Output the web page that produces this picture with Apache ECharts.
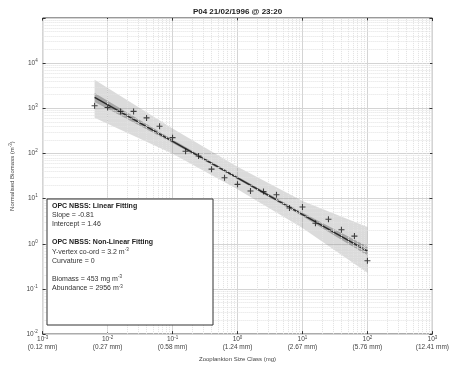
<!DOCTYPE html>
<html>
<head>
<meta charset="utf-8">
<script src="https://cdn.jsdelivr.net/npm/echarts@6/dist/echarts.min.js"></script>
<style>
  html, body { margin: 0; padding: 0; background: #fff; }
  #main { width: 452px; height: 367px; }
</style>
</head>
<body>
<div id="main"></div>
<script>
// size class (mg) and normalised biomass
const sizeClass = [0.00631, 0.01, 0.01585, 0.02512, 0.03981, 0.0631, 0.1, 0.1585, 0.2512, 0.3981, 0.631,
  1, 1.585, 2.512, 3.981, 6.31, 10, 15.85, 25.12, 39.81, 63.1, 100]
const biomass = [1135, 1043, 855, 855, 614, 401, 224, 112, 88, 45, 28.9,
  20.7, 14.7, 14.3, 12.2, 6.2, 6.5, 2.85, 3.48, 2.05, 1.48, 0.42]

// linear fit end points
const fitX = [0.00631, 100]
const fitY = [1746, 0.69]

// confidence / prediction bands
const bandX = [0.00631, 0.1, 1, 10, 100]
const outerUpper = [4270, 355, 51, 8.9, 2.34]
const outerLower = [617, 98, 16.2, 2.24, 0.228]
const innerUpper = [2190, 204, 30.9, 4.9, 0.87]
const innerLower = [1380, 170, 26.9, 4.07, 0.55]

// tick labels
const xMmLabels = ['(0.12 mm)', '(0.27 mm)', '(0.58 mm)', '(1.24 mm)', '(2.67 mm)', '(5.76 mm)', '(12.41 mm)']

const FONT = 'Liberation Sans, Arial, sans-serif'
const chart = echarts.init(document.getElementById('main'))

// minor grid positions (2..9 in every decade)
const xMinor = []
for (let e = -3; e < 3; e++) for (let m = 2; m <= 9; m++) xMinor.push({ xAxis: m * Math.pow(10, e) })
const yMinor = []
for (let e = -2; e < 5; e++) for (let m = 2; m <= 9; m++) yMinor.push({ yAxis: m * Math.pow(10, e) })

const bandSeries = (up, lo, fill, z) => ({
  type: 'custom',
  z: z,
  silent: true,
  data: [[bandX[0], up[0]]],
  renderItem: (params, api) => {
    const pts = []
    for (let i = 0; i < bandX.length; i++) pts.push(api.coord([bandX[i], up[i]]))
    for (let i = bandX.length - 1; i >= 0; i--) pts.push(api.coord([bandX[i], lo[i]]))
    return { type: 'polygon', shape: { points: pts }, style: { fill: fill } }
  }
})

const sup = { fontSize: 4.5, verticalAlign: 'top', padding: [0, 0, 5, 0], color: '#444', fontFamily: FONT }

const option = {
  animation: false,
  textStyle: { fontFamily: FONT },
  grid: { left: 38, right: 15, top: 18, bottom: 24, show: true, borderColor: '#333', borderWidth: 1 },
  xAxis: [{
    type: 'log', logBase: 10, min: 0.001, max: 1000, interval: 1,
    name: 'Zooplankton Size Class (mg)', nameLocation: 'middle', nameGap: 19,
    nameTextStyle: { fontSize: 6, color: '#444' },
    axisLine: { show: false },
    axisTick: { inside: true, length: 3, lineStyle: { color: '#333' } },
    splitLine: { show: true, lineStyle: { color: '#d4d4d4', width: 1 } },
    axisLabel: {
      margin: 1, color: '#444', fontSize: 6.5, lineHeight: 8,
      formatter: v => {
        const e = Math.round(Math.log10(v))
        return '{b|10}{s|' + e + '}\n' + xMmLabels[e + 3]
      },
      rich: { b: { fontSize: 6.5, color: '#444' }, s: sup }
    }
  }, {
    type: 'log', logBase: 10, min: 0.001, max: 1000, interval: 1, position: 'top',
    axisLine: { show: false }, axisLabel: { show: false }, splitLine: { show: false },
    axisTick: { inside: true, length: 3, lineStyle: { color: '#333' } }
  }],
  yAxis: [{
    type: 'log', logBase: 10, min: 0.01, max: 100000, interval: 1,
    name: 'Normalised Biomass (m{s|-3})', nameLocation: 'middle', nameGap: 24,
    nameTextStyle: { fontSize: 6, color: '#444', rich: { s: { fontSize: 4.5, verticalAlign: 'top', padding: [0, 0, 4, 0], color: '#444' } } },
    axisLine: { show: false },
    axisTick: { inside: true, length: 3, lineStyle: { color: '#333' } },
    splitLine: { show: true, lineStyle: { color: '#d4d4d4', width: 1 } },
    axisLabel: {
      margin: 5, color: '#444', fontSize: 6.5,
      formatter: v => {
        const e = Math.round(Math.log10(v))
        return e >= 5 ? '' : '{b|10}{s|' + e + '}'
      },
      rich: { b: { fontSize: 6.5, color: '#444' }, s: sup }
    }
  }, {
    type: 'log', logBase: 10, min: 0.01, max: 100000, interval: 1, position: 'right',
    axisLine: { show: false }, axisLabel: { show: false }, splitLine: { show: false },
    axisTick: { inside: true, length: 3, lineStyle: { color: '#333' } }
  }],
  series: [
    {
      type: 'line', z: 0, silent: true, data: [[1, 1]], showSymbol: false, lineStyle: { opacity: 0 },
      markLine: {
        silent: true, symbol: ['none', 'none'], label: { show: false },
        lineStyle: { color: '#e2e2e2', type: [1, 1], width: 1 },
        data: xMinor.concat(yMinor)
      }
    },
    bandSeries(outerUpper, outerLower, 'rgba(150,150,150,0.34)', 2),
    bandSeries(innerUpper, innerLower, 'rgba(90,90,90,0.4)', 3),
    {
      type: 'line', z: 4, silent: true, showSymbol: false,
      data: fitX.map((x, i) => [x, fitY[i]]),
      lineStyle: { color: '#2a2a2a', width: 1.5 }
    },
    {
      type: 'scatter', z: 5, silent: true,
      symbol: 'path://M4.1,0H5.9V4.1H10V5.9H5.9V10H4.1V5.9H0V4.1H4.1Z',
      symbolSize: 6,
      itemStyle: { color: '#1a1a1a' },
      data: sizeClass.map((x, i) => [x, biomass[i]])
    }
  ],
  graphic: [
    {
      type: 'text', x: 237.5, y: 12, z: 10,
      style: { text: 'P04 21/02/1996 @ 23:20', font: 'bold 8px ' + FONT, fill: '#222', textAlign: 'center', textVerticalAlign: 'middle' }
    },
    {
      type: 'rect', z: 10,
      shape: { x: 47, y: 199, width: 166, height: 126 },
      style: { fill: '#fff', stroke: '#333', lineWidth: 1 }
    },
    {
      type: 'text', x: 52, y: 201, z: 11,
      style: {
        text: [
          '{h|OPC NBSS: Linear Fitting}',
          'Slope = -0.81',
          'Intercept = 1.46',
          '',
          '{h|OPC NBSS: Non-Linear Fitting}',
          'Y-vertex co-ord = 3.2 m{s|-3}',
          'Curvature = 0',
          '',
          'Biomass = 453 mg m{s|-3}',
          'Abundance = 2956 m{s|-3}'
        ].join('\n'),
        font: '7px ' + FONT, fill: '#333', lineHeight: 9.2,
        rich: {
          h: { fontWeight: 'bold', fontSize: 7, fill: '#222', lineHeight: 9.2, fontFamily: FONT },
          s: { fontSize: 4.5, verticalAlign: 'top', padding: [0, 0, 4, 0], fill: '#333', fontFamily: FONT }
        }
      }
    }
  ]
}

chart.setOption(option)
</script>
</body>
</html>
